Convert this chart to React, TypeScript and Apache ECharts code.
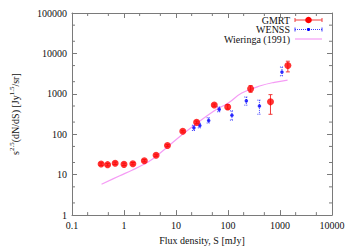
import React, { useEffect, useRef } from "react";
import * as echarts from "echarts";

const X_TICKS = [0.1, 1, 10, 100, 1000, 10000];
const Y_TICKS = [1, 10, 100, 1000, 10000, 100000];
const MINOR_MULTS = [2, 5];

const GMRT_S = [0.363, 0.484, 0.676, 1.0, 1.48, 2.46, 4.14, 6.85, 13.5, 24.9, 54.4, 98.7, 272, 656, 1416];
const GMRT_V = [18.3, 17.7, 19.1, 18.0, 18.7, 22.2, 30.2, 52.7, 119, 197, 527, 472, 1328, 634, 5047];
const GMRT_LO = [17.0, 16.5, 17.8, 16.8, 17.5, 20.8, 28.5, 50, 113, 183, 495, 420, 1100, 312, 3490];
const GMRT_HI = [19.6, 19.0, 20.5, 19.3, 20.0, 23.7, 32, 55.5, 125, 212, 560, 540, 1600, 956, 6410];

const WENSS_S = [22.1, 28.7, 42.5, 67.7, 119, 225, 402, 1091];
const WENSS_V = [144, 164, 220, 413, 296, 670, 499, 3490];
const WENSS_LO = [124, 144, 190, 360, 224, 525, 313, 2800];
const WENSS_HI = [167, 187, 256, 473, 379, 835, 698, 4600];

const WIER_S = [0.37, 0.81, 1.42, 2.37, 3.67, 6.56, 13.6, 24.2, 53.7, 103, 184, 438, 780, 1397];
const WIER_V = [5.8, 9.3, 12.9, 17.8, 25.2, 46.4, 101, 179, 378, 600, 1045, 1604, 1928, 2193];

const FONT = "Liberation Serif";
const AXIS_COLOR = "#7a7a7a";
const RED = "#ff0000";
const RED_BAR = "#f03a3a";
const BLUE = "#0000ff";
const BLUE_BAR = "#3a3aff";
const PINK = "#f59cf5";

function errorBarSeries(name: string, xs: number[], lo: number[], hi: number[], color: string, dash: number[] | null) {
  return {
    type: "custom",
    name,
    xAxisIndex: 0,
    yAxisIndex: 0,
    silent: true,
    data: xs.map((x, i) => [x, lo[i], hi[i]]),
    encode: { x: 0, y: [1, 2] },
    renderItem: (params: any, api: any) => {
      const x = api.value(0);
      const top = api.coord([x, api.value(2)]);
      const bot = api.coord([x, api.value(1)]);
      const cap = 2;
      const style: any = { stroke: color, lineWidth: 1, fill: null };
      if (dash) style.lineDash = dash;
      return {
        type: "group",
        children: [
          { type: "line", shape: { x1: top[0], y1: top[1], x2: bot[0], y2: bot[1] }, style },
          { type: "line", shape: { x1: top[0] - cap, y1: top[1], x2: top[0] + cap, y2: top[1] }, style },
          { type: "line", shape: { x1: bot[0] - cap, y1: bot[1], x2: bot[0] + cap, y2: bot[1] }, style },
        ],
      };
    },
    z: 3,
  };
}

export default function App() {
  const ref = useRef<HTMLDivElement>(null);
  useEffect(() => {
    if (!ref.current) return;
    const chart = echarts.init(ref.current, null, { renderer: "svg" });

    const minorX: number[] = [];
    for (let i = 0; i < X_TICKS.length - 1; i++) MINOR_MULTS.forEach((m) => minorX.push(X_TICKS[i] * m));
    const minorY: number[] = [];
    for (let i = 0; i < Y_TICKS.length - 1; i++) MINOR_MULTS.forEach((m) => minorY.push(Y_TICKS[i] * m));

    const minorTickSeries = {
      type: "custom",
      silent: true,
      xAxisIndex: 0,
      yAxisIndex: 0,
      data: [[1, 10]],
      renderItem: (params: any, api: any) => {
        const cs = params.coordSys;
        const left = cs.x, top = cs.y, right = cs.x + cs.width, bottom = cs.y + cs.height;
        const len = 3;
        const style = { stroke: AXIS_COLOR, lineWidth: 1 };
        const children: any[] = [];
        minorX.forEach((v) => {
          const px = api.coord([v, 10])[0];
          children.push({ type: "line", shape: { x1: px, y1: bottom, x2: px, y2: bottom - len }, style });
          children.push({ type: "line", shape: { x1: px, y1: top, x2: px, y2: top + len }, style });
        });
        minorY.forEach((v) => {
          const py = api.coord([1, v])[1];
          children.push({ type: "line", shape: { x1: left, y1: py, x2: left + len, y2: py }, style });
          children.push({ type: "line", shape: { x1: right, y1: py, x2: right - len, y2: py }, style });
        });
        return { type: "group", children };
      },
      z: 1,
    };

    const axisCommon = {
      type: "log",
      logBase: 10,
      axisLine: { show: true, lineStyle: { color: AXIS_COLOR, width: 1 } },
      axisTick: { show: true, inside: true, length: 5, lineStyle: { color: AXIS_COLOR } },
      splitLine: { show: false },
      minorTick: { show: false },
    };

    const legY = [20, 29.5, 39];
    const legTextX = 290;
    const l1 = 295, l2 = 322, lm = (l1 + l2) / 2;
    const legendText = (t: string, y: number) => ({
      type: "text",
      x: legTextX,
      y,
      style: { text: t, font: `10px '${FONT}'`, fill: "#111", align: "right", verticalAlign: "middle" },
    });

    chart.setOption({
      animation: false,
      grid: { left: 67, right: 17, top: 13, bottom: 30 },
      xAxis: [
        {
          ...axisCommon,
          min: 0.1,
          max: 10000,
          position: "bottom",
          name: "Flux density, S [mJy]",
          nameLocation: "middle",
          nameGap: 16,
          nameTextStyle: { fontFamily: FONT, fontSize: 10, color: "#111" },
          axisLabel: {
            fontFamily: FONT,
            fontSize: 10,
            color: "#111",
            margin: 5,
            formatter: (v: number) => String(X_TICKS.find((t) => Math.abs(Math.log10(t) - Math.log10(v)) < 1e-6) ?? v),
          },
        },
        {
          ...axisCommon,
          min: 0.1,
          max: 10000,
          position: "top",
          axisLabel: { show: false },
        },
      ],
      yAxis: [
        {
          ...axisCommon,
          min: 1,
          max: 100000,
          position: "left",
          name: "s{sup|2.5}(dN/dS) [Jy{sup|1.5}/sr]",
          nameLocation: "middle",
          nameGap: 50,
          nameRotate: 90,
          nameTextStyle: {
            fontFamily: FONT,
            fontSize: 10,
            color: "#111",
            lineHeight: 14,
            rich: {
              sup: { fontFamily: FONT, fontSize: 7, color: "#111", verticalAlign: "top", lineHeight: 8 },
            },
          },
          axisLabel: {
            fontFamily: FONT,
            fontSize: 10,
            color: "#111",
            margin: 5,
            formatter: (v: number) => String(Y_TICKS.find((t) => Math.abs(Math.log10(t) - Math.log10(v)) < 1e-6) ?? v),
          },
        },
        {
          ...axisCommon,
          min: 1,
          max: 100000,
          position: "right",
          axisLabel: { show: false },
        },
      ],
      series: [
        minorTickSeries,
        {
          type: "line",
          name: "Wieringa (1991)",
          data: WIER_S.map((s, i) => [s, WIER_V[i]]),
          smooth: 0.4,
          showSymbol: false,
          lineStyle: { color: PINK, width: 1.2 },
          z: 2,
        },
        errorBarSeries("WENSS err", WENSS_S, WENSS_LO, WENSS_HI, BLUE_BAR, [1, 1]),
        {
          type: "scatter",
          name: "WENSS",
          data: WENSS_S.map((s, i) => [s, WENSS_V[i]]),
          symbol: "circle",
          symbolSize: 3.5,
          itemStyle: { color: BLUE },
          z: 4,
        },
        errorBarSeries("GMRT err", GMRT_S, GMRT_LO, GMRT_HI, RED_BAR, null),
        {
          type: "scatter",
          name: "GMRT",
          data: GMRT_S.map((s, i) => [s, GMRT_V[i]]),
          symbol: "circle",
          symbolSize: 7,
          itemStyle: { color: RED },
          z: 5,
        },
      ],
      graphic: [
        legendText("GMRT", legY[0]),
        { type: "line", shape: { x1: l1, y1: legY[0], x2: l2, y2: legY[0] }, style: { stroke: RED_BAR, lineWidth: 1 } },
        { type: "line", shape: { x1: l1, y1: legY[0] - 2, x2: l1, y2: legY[0] + 2 }, style: { stroke: RED_BAR, lineWidth: 1 } },
        { type: "line", shape: { x1: l2, y1: legY[0] - 2, x2: l2, y2: legY[0] + 2 }, style: { stroke: RED_BAR, lineWidth: 1 } },
        { type: "circle", shape: { cx: lm, cy: legY[0], r: 3.3 }, style: { fill: RED } },
        legendText("WENSS", legY[1]),
        { type: "line", shape: { x1: l1, y1: legY[1], x2: l2, y2: legY[1] }, style: { stroke: BLUE_BAR, lineWidth: 1, lineDash: [1, 1] } },
        { type: "line", shape: { x1: l1, y1: legY[1] - 2, x2: l1, y2: legY[1] + 2 }, style: { stroke: BLUE_BAR, lineWidth: 1 } },
        { type: "line", shape: { x1: l2, y1: legY[1] - 2, x2: l2, y2: legY[1] + 2 }, style: { stroke: BLUE_BAR, lineWidth: 1 } },
        { type: "circle", shape: { cx: lm, cy: legY[1], r: 1.6 }, style: { fill: BLUE } },
        legendText("Wieringa (1991)", legY[2]),
        { type: "line", shape: { x1: l1, y1: legY[2], x2: l2, y2: legY[2] }, style: { stroke: PINK, lineWidth: 1.2 } },
      ],
    });
    return () => chart.dispose();
  }, []);

  return <div ref={ref} style={{ width: 349, height: 250, position: "absolute", left: 0, top: 0 }} />;
}
